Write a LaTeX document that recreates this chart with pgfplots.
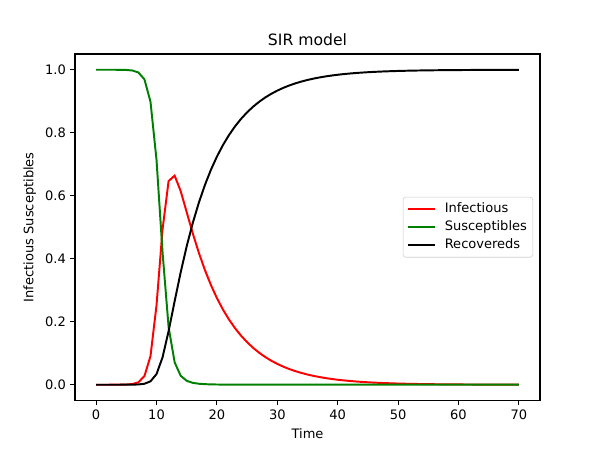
\documentclass[border=0pt]{standalone}
\usepackage{fontspec}
\setmainfont{DejaVu Sans}
\usepackage{pgfplots}
\usepackage{pgfplotstable}
\pgfplotsset{compat=1.18}
\definecolor{mplred}{rgb}{1,0,0}
\definecolor{mplgreen}{rgb}{0,0.5,0}
\pgfplotstableread{
t I S R
0 0.000001 0.999999 0.000000
1 0.000004 0.999996 0.0000003
2 0.000013 0.999986 0.000001
3 0.000047 0.999948 0.000005
4 0.000169 0.999813 0.000019
5 0.000607 0.999326 0.000068
6 0.002183 0.997574 0.000244
7 0.007808 0.991318 0.000874
8 0.027442 0.969447 0.003111
9 0.090847 0.898411 0.010742
10 0.252614 0.713542 0.033844
11 0.493340 0.419570 0.087090
12 0.646722 0.182968 0.170310
13 0.663803 0.071085 0.265112
14 0.614676 0.028475 0.356849
15 0.547605 0.012430 0.439965
16 0.480687 0.005980 0.513333
17 0.419317 0.003153 0.577530
18 0.364740 0.001805 0.633455
19 0.316834 0.001112 0.682054
20 0.275013 0.000730 0.724257
21 0.238611 0.000506 0.760883
22 0.206978 0.000369 0.792653
23 0.179504 0.000280 0.820216
24 0.155664 0.000221 0.844115
25 0.134978 0.000180 0.864842
26 0.117042 0.000150 0.882808
27 0.101484 0.000129 0.898388
28 0.087989 0.000112 0.911898
29 0.076289 0.000100 0.923611
30 0.066142 0.000090 0.933768
31 0.057345 0.000083 0.942572
32 0.049715 0.000077 0.950208
33 0.043102 0.000072 0.956826
34 0.037369 0.000068 0.962563
35 0.032400 0.000064 0.967536
36 0.028090 0.000062 0.971848
37 0.024353 0.000060 0.975587
38 0.021111 0.000058 0.978831
39 0.018302 0.000056 0.981642
40 0.015867 0.000055 0.984079
41 0.013756 0.000054 0.986191
42 0.011926 0.000053 0.988021
43 0.010338 0.000052 0.989610
44 0.008963 0.000051 0.990986
45 0.007771 0.000050 0.992179
46 0.006738 0.000050 0.993212
47 0.005843 0.000049 0.994108
48 0.005063 0.000049 0.994888
49 0.004389 0.000049 0.995562
50 0.003805 0.000048 0.996146
51 0.003299 0.000048 0.996653
52 0.002860 0.000048 0.997092
53 0.002479 0.000048 0.997473
54 0.002149 0.000048 0.997803
55 0.001863 0.000048 0.998089
56 0.001615 0.000048 0.998337
57 0.001400 0.000047 0.998552
58 0.001214 0.000047 0.998738
59 0.001053 0.000047 0.998900
60 0.000912 0.000047 0.999040
61 0.000791 0.000047 0.999162
62 0.000686 0.000047 0.999267
63 0.000595 0.000047 0.999358
64 0.000515 0.000047 0.999437
65 0.000447 0.000047 0.999506
66 0.000387 0.000047 0.999566
67 0.000336 0.000047 0.999617
68 0.000291 0.000047 0.999662
69 0.000252 0.000047 0.999701
70 0.000219 0.000047 0.999734
}\sir
\begin{document}
\begin{tikzpicture}
\begin{axis}[
  scale only axis, width=357.12pt, height=266.1pt,
  xmin=-3.5, xmax=73.5, ymin=-0.05, ymax=1.05,
  xtick={0,10,20,30,40,50,60,70},
  ytick={0,0.2,0.4,0.6,0.8,1},
  yticklabel style={/pgf/number format/.cd, fixed, fixed zerofill, precision=1},
  /pgf/number format/assume math mode=true,
  tick align=outside, xtick pos=lower, ytick pos=left,
  major tick length=3.5pt,
  every tick/.style={black, line width=0.8pt},
  axis line style={line width=0.8pt},
  tick label style={font=\fontsize{10}{12}\selectfont},
  label style={font=\fontsize{10}{12}\selectfont},
  every axis title/.style={at={(0.5,1)}, anchor=base, inner sep=0pt, yshift=6.5pt, font=\fontsize{12}{14}\selectfont},
  title={SIR model},
  xlabel={Time},
  ylabel={Infectious Susceptibles},
  legend cell align=left,
  legend image code/.code={\draw[#1, line width=1.5pt] (0pt,0pt) -- (21pt,0pt);},
  legend style={at={(0.985,0.5)}, anchor=east, draw=black!20, rounded corners=2pt,
    fill=white, inner xsep=3pt, inner ysep=3pt, row sep=1pt,
    font=\fontsize{10}{12}\selectfont,
    nodes={inner sep=1.5pt, text height=7.5pt, text depth=2.2pt},
    /tikz/every odd column/.append style={column sep=5pt}},
]
\addplot[mplred, line width=1.5pt] table[x=t, y=I] {\sir};
\addlegendentry{Infectious}
\addplot[mplgreen, line width=1.5pt] table[x=t, y=S] {\sir};
\addlegendentry{Susceptibles}
\addplot[black, line width=1.5pt] table[x=t, y=R] {\sir};
\addlegendentry{Recovereds}
\end{axis}
\path ([shift={(-57.6pt,-38.02pt)}]current axis.south west) rectangle ([shift={(46.08pt,41.47pt)}]current axis.north east);
\end{tikzpicture}
\end{document}
